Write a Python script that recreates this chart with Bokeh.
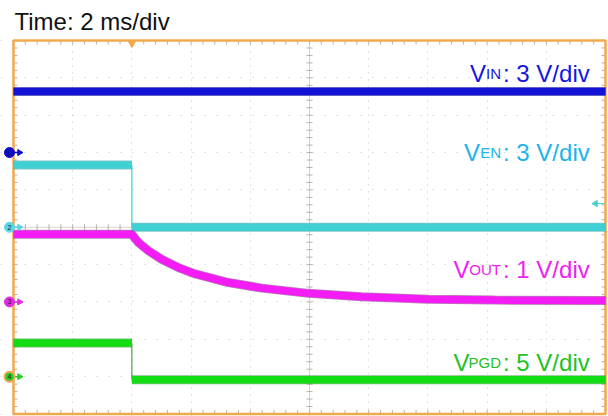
import numpy as np
from bokeh.plotting import figure
from bokeh.models import Range1d, Grid, FixedTicker, Label
from bokeh.embed import file_html
from bokeh.resources import INLINE

# ---------------- data ----------------
TIME_PER_DIV_MS = 2
t_start, t_end = -4.0, 16.0          # ms, 10 horizontal divisions
n_ydiv = 10

ch_sub = ["IN", "EN", "OUT", "PGD"]
ch_vdiv = [3, 3, 1, 5]               # volts / division
ch_ground = [7, 5, 3, 1]             # ground marker position (div from bottom)

vin_t = [-4.0, 16.0]
vin_v = [4.9, 4.9]

ven_t = [-4.0, 0.0, 0.0, 16.0]
ven_v = [5.0, 5.0, 0.0, 0.0]

vout_t = [-4.0, 0.0, 0.22, 0.56, 1.01, 1.57, 2.14, 3.26, 4.39, 5.97, 7.76, 10.02, 12.27, 16.0]
vout_v = [1.81, 1.81, 1.59, 1.37, 1.14, 0.92, 0.75, 0.52, 0.37, 0.23, 0.14, 0.07, 0.05, 0.04]

vpgd_t = [-4.0, 0.0, 0.0, 16.0]
vpgd_v = [4.5, 4.5, -0.4, -0.4]

trig_ch = 1          # index of VEN
trig_level_v = 1.9
trig_time = 0.0

# ---------------- styling / layout ----------------
main_col = ["#1212D6", "#40D0D3", "#F41CF4", "#12DC12"]
dark_col = ["#00007A", "#168A8C", "#6E0A6E", "#087808"]
label_col = ["#1616E0", "#1DB4EA", "#EE22EE", "#22C222"]
marker_col = ["#0C0CC8", "#5AD6E6", "#E22AE2", "#2ACC2A"]
orange = "#F2A94E"
FONT = "Liberation Sans"

W, H = 608, 416
GX0, GX1 = 13.0, 605.0       # graticule left/right (px)
GY0, GY1 = 40.0, 413.5       # graticule top/bottom (px)
TOP = 38                     # frame top (px)
px_x = (GX1 - GX0) / (t_end - t_start)
px_y = (GY1 - GY0) / n_ydiv

def X(px):
    return t_start + (px - GX0) / px_x

def Y(py):
    return (GY1 - py) / px_y

p = figure(width=W, height=H, x_range=Range1d(X(0), X(W)), y_range=Range1d(Y(H), Y(TOP)),
           x_axis_type=None, y_axis_type=None, toolbar_location=None,
           output_backend="svg", min_border_left=0, min_border_right=0,
           min_border_top=TOP, min_border_bottom=0,
           title=f"Time: {TIME_PER_DIV_MS} ms/div")
p.title.text_font = FONT
p.title.text_font_size = "24px"
p.title.text_font_style = "normal"
p.title.text_color = "#111111"
p.title.standoff = 7
p.title.offset = 14
p.outline_line_color = None
p.background_fill_color = "white"
p.border_fill_color = "white"

def d(v, ch):
    return [ch_ground[ch] + x / ch_vdiv[ch] for x in v]

# graticule
xmaj = list(np.arange(t_start, t_end + 0.01, TIME_PER_DIV_MS))
ymaj = list(range(0, n_ydiv + 1))
p.add_layout(Grid(dimension=0, ticker=FixedTicker(ticks=xmaj), grid_line_color="#C4C4C4",
                  grid_line_dash="1 6", grid_line_width=1))
p.add_layout(Grid(dimension=1, ticker=FixedTicker(ticks=ymaj), grid_line_color="#C4C4C4",
                  grid_line_dash="1 11", grid_line_width=1))
xc = (t_start + t_end) / 2
yc = n_ydiv / 2
p.line([xc, xc], [0, n_ydiv], line_color="#D6D0C6", line_width=1)
p.line([t_start, t_end], [yc, yc], line_color="#D6D0C6", line_width=1)

xm = np.arange(t_start, t_end + 0.001, TIME_PER_DIV_MS / 5)
ym = np.arange(0, n_ydiv + 0.001, 0.2)
tk = "#B9B2A6"
L = 4
p.segment(x0=xm, y0=np.full_like(xm, n_ydiv), x1=xm, y1=np.full_like(xm, n_ydiv - L / px_y), line_color=tk)
p.segment(x0=xm, y0=np.zeros_like(xm), x1=xm, y1=np.full_like(xm, L / px_y), line_color=tk)
p.segment(x0=np.full_like(ym, t_start), y0=ym, x1=np.full_like(ym, t_start + L / px_x), y1=ym, line_color=tk)
p.segment(x0=np.full_like(ym, t_end), y0=ym, x1=np.full_like(ym, t_end - L / px_x), y1=ym, line_color=tk)
p.segment(x0=np.full_like(ym, xc - 3 / px_x), y0=ym, x1=np.full_like(ym, xc + 3 / px_x), y1=ym, line_color=tk)
p.segment(x0=xm, y0=np.full_like(xm, yc - 3 / px_y), x1=xm, y1=np.full_like(xm, yc + 3 / px_y), line_color=tk)

# border
p.quad(left=[t_start], right=[t_end], bottom=[0], top=[n_ydiv], fill_alpha=0,
       line_color=orange, line_width=2.5)

# traces
def band(t, dv, ch):
    p.line(t, dv, line_color=dark_col[ch], line_width=9, line_alpha=0.5)
    p.line(t, dv, line_color=main_col[ch], line_width=7.5)

band(vin_t, d(vin_v, 0), 0)

vd = d(ven_v, 1)
p.line(ven_t[1:3], vd[1:3], line_color="#52D2D6", line_width=1.3)
band(ven_t[:2], vd[:2], 1)
band(ven_t[2:], vd[2:], 1)

band(vout_t, d(vout_v, 2), 2)

gd = d(vpgd_v, 3)
p.line(vpgd_t[1:3], gd[1:3], line_color="#2E8A2E", line_width=1)
band(vpgd_t[:2], gd[:2], 3)
band(vpgd_t[2:], gd[2:], 3)

# channel labels (pixel layout measured on the reference)
lab_V_px = [469.5, 463.5, 453.0, 453.0]
lab_sub_right_px = 500.5
lab_suf_px = 502.5
lab_base_px = [73.3, 151.7, 268.7, 362.0]
for i in range(4):
    yb = Y(lab_base_px[i])
    p.add_layout(Label(x=X(lab_V_px[i]), y=yb, text="V", text_font=FONT, text_font_size="24px",
                       text_color=label_col[i], text_align="left", text_baseline="alphabetic"))
    p.add_layout(Label(x=X(lab_sub_right_px), y=yb, text=ch_sub[i], text_font=FONT, text_font_size="15px",
                       text_color=label_col[i], text_align="right", text_baseline="alphabetic"))
    p.add_layout(Label(x=X(lab_suf_px), y=yb, text=f": {ch_vdiv[i]} V/div", text_font=FONT,
                       text_font_size="24px", text_color=label_col[i], text_align="left",
                       text_baseline="alphabetic"))

# ground markers
mx = X(9.0)
ax = X(19.0)
for i in range(4):
    p.segment(x0=[mx], y0=[ch_ground[i]], x1=[ax], y1=[ch_ground[i]], line_color=marker_col[i], line_width=1.5)
    p.scatter([ax], [ch_ground[i]], marker="triangle", angle=-np.pi / 2, size=6,
              fill_color=marker_col[i], line_color=marker_col[i])
    p.scatter([mx], [ch_ground[i]], marker="circle", size=10, fill_color=marker_col[i],
              line_color=orange if i == 3 else marker_col[i], line_width=2 if i == 3 else 1)
    p.add_layout(Label(x=mx, y=ch_ground[i], text=str(i + 1), text_font=FONT, text_font_size="7px",
                       text_color="#222222", text_align="center", text_baseline="middle"))

# trigger level (right) and trigger position (top)
tl = ch_ground[trig_ch] + trig_level_v / ch_vdiv[trig_ch]
p.segment(x0=[X(596)], y0=[tl], x1=[X(604)], y1=[tl], line_color=main_col[1], line_width=1)
p.scatter([X(595)], [tl], marker="triangle", angle=np.pi / 2, size=6,
          fill_color=main_col[1], line_color=main_col[1])
p.scatter([trig_time], [Y(42.5)], marker="inverted_triangle", size=8,
          fill_color=orange, line_color=orange)

open("out.html", "w").write(file_html(p, INLINE))
